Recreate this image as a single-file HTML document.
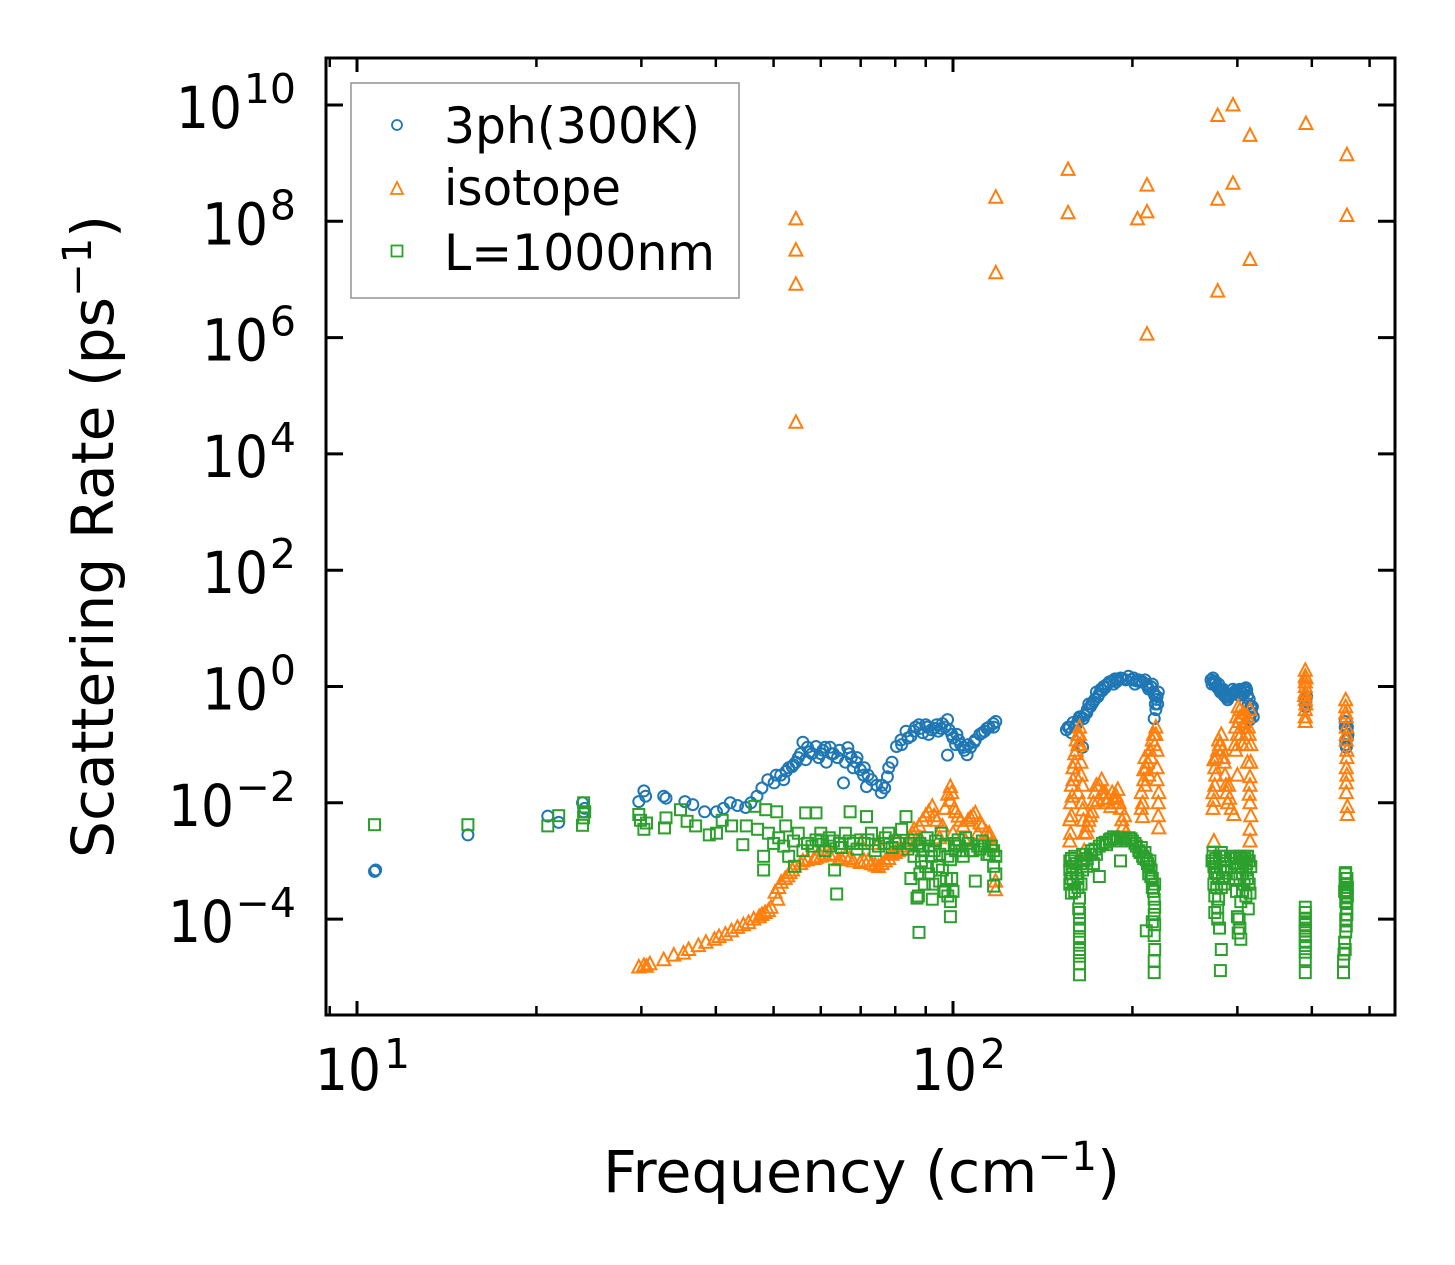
<!DOCTYPE html>
<html><head><meta charset="utf-8"><style>
html,body{margin:0;padding:0;background:#fff;}
svg{display:block;font-family:"DejaVu Sans","Liberation Sans",sans-serif;}
</style></head><body>
<svg id="chart" width="1455" height="1265" viewBox="0 0 1455 1265" xmlns="http://www.w3.org/2000/svg">
<rect x="0" y="0" width="1455" height="1265" fill="#fff"/>
<g id="marks"></g>
<g id="axes"></g>
<g id="legend">
  <rect x="351" y="83" width="388" height="215" fill="#fff" stroke="#999" stroke-width="1.6"/>
  <circle cx="397" cy="125" r="5" fill="none" stroke="#1f77b4" stroke-width="1.8"/>
  <path d="M397,182 L403,194 L391,194 Z" fill="none" stroke="#ff7f0e" stroke-width="1.8"/>
  <rect x="391.5" y="245.5" width="11" height="11" fill="none" stroke="#2ca02c" stroke-width="1.8"/>
  <text x="444" y="143" font-size="50" textLength="256" lengthAdjust="spacingAndGlyphs">3ph(300K)</text>
  <text x="444" y="205" font-size="50" textLength="177" lengthAdjust="spacingAndGlyphs">isotope</text>
  <text x="444" y="270" font-size="50" textLength="271" lengthAdjust="spacingAndGlyphs">L=1000nm</text>
</g>
<text x="603" y="1192" font-size="58" textLength="517" lengthAdjust="spacingAndGlyphs">Frequency (cm<tspan font-size="40" dy="-22">−1</tspan><tspan dy="22">)</tspan></text>
<text transform="translate(113,858) rotate(-90)" x="0" y="0" font-size="58" textLength="643" lengthAdjust="spacingAndGlyphs">Scattering Rate (ps<tspan font-size="40" dy="-22">−1</tspan><tspan dy="22">)</tspan></text>
</svg>
<script>
// ---- data ----
const blueF = [10.7,10.75,15.35,20.9,21.8,23.9,24.0,24.1,29.7,30.3,30.5,32.7,33.0,35.5,36.6,38.3,40.1,41.2,42.3,43.5,44.9,45.8,46.9,47.8,48.9,50.1,51.4,52.5,53.7,54.5,55.5,56.0,56.6,57.5,58.9,59.5,60.5,61.3,62.2,63.0,64.0,65.5,66.6,67.5,68.8,69.9,70.8,71.6,73,74.5,75.8,76.8,77.6,79,80.4,81.8,83.4,85,86.5,87.7,89,90.5,92,93.9,95.5,97.9,97.9,99.5,101,102.2,104,105.6,107,108.5,110.9,113,115,116.8,118,
155,157,159,161,163,165,165.5,167.6,170,172,175,178,181.5,185,188,191,195,199.6,202,205,208,211,214.7,217,220,218.5,217.6,219,
271,274,277,280,282,285,289,292,296,300,304,308,311,314,316,318,315,390,391,392,455,457,459,460,456,
82,84,86,88,90,91,93,94.5,96,97,98.5,100,101.5,103,104.5,106,109,112,114,117,55,57,58,60,61,62.5,64.5,66,67,68,69,71,72,76,78,50.5,52,53,54,
156,158,160,162,164,166,168,169,171,173,174,176,177,179,180,183,186,187,189,193,197,201,203,206,210,212,213,216,218,219.5,220.5,221,
272,273,275,276,278,279,281,283,284,287,288,290,294,295,298,302,303,306,309,310,312,313,317,319,314,
390,391,455,458,456,459];
const blueR = [6.6e-4,7e-4,2.8e-3,5.9e-3,4.6e-3,1e-2,7e-3,8e-3,1.05e-2,1.6e-2,1.3e-2,1.3e-2,1.2e-2,1.05e-2,9.3e-3,7e-3,7e-3,8e-3,1e-2,9e-3,8.3e-3,1e-2,1.3e-2,1.8e-2,2.5e-2,2.2e-2,3e-2,3.5e-2,4.2e-2,5e-2,7e-2,1.1e-1,5.5e-2,7.5e-2,9.3e-2,6e-2,8e-2,5e-2,9e-2,7e-2,6e-2,2.2e-2,8.9e-2,6e-2,5e-2,3.7e-2,3e-2,1.9e-2,2.5e-2,2e-2,1.5e-2,1.8e-2,2.8e-2,5e-2,9.3e-2,1.2e-1,1.7e-1,1.4e-1,2e-1,2.2e-1,1.6e-1,2e-1,1.8e-1,2.2e-1,1.9e-1,2.7e-1,6.6e-2,1.5e-1,1e-1,1.2e-1,9e-2,6.7e-2,9e-2,1.1e-1,1.5e-1,1.7e-1,2e-1,2.3e-1,2.5e-1,
0.18,0.2,0.24,0.22,0.3,0.09,0.28,0.35,0.45,0.55,0.67,0.85,1.1,1.25,1.2,1.4,1.3,1.3,1.1,1.3,1.2,1.1,1.0,0.8,0.67,0.5,0.28,0.4,
1.3,1.25,1.0,0.9,0.87,0.7,0.59,0.7,0.77,0.8,0.85,0.9,0.87,0.6,0.45,0.45,0.27,0.6,0.45,0.67,0.2,0.09,0.2,0.15,0.12,
0.1,0.13,0.17,0.19,0.22,0.15,0.19,0.17,0.23,0.2,0.18,0.13,0.15,0.1,0.08,0.1,0.12,0.16,0.19,0.2,0.06,0.09,0.07,0.07,0.09,0.07,0.08,0.05,0.07,0.04,0.06,0.04,0.03,0.02,0.04,0.03,0.025,0.04,0.045,
0.2,0.16,0.2,0.25,0.3,0.32,0.4,0.5,0.5,0.6,0.8,0.75,0.9,1.0,0.95,1.2,1.1,1.35,1.3,1.35,1.5,1.4,1.25,1.2,1.3,1.0,0.9,1.1,0.7,0.6,0.5,0.8,
1.1,1.4,1.1,1.2,0.95,1.1,0.8,0.8,0.9,0.65,0.75,0.65,0.75,0.9,0.85,0.7,0.9,0.75,0.8,0.95,0.7,0.5,0.35,0.3,0.3,
0.5,0.55,0.25,0.18,0.1,0.13];

const isoF = [29.7,30.3,30.6,32.7,35.3,36,37.4,38.5,39.8,41.5,42.5,43.5,44.5,45.4,46.3,47.3,48.4,49.5,50.3,50.8,51.5,52.3,53.3,54.2,55.5,57,58.5,60,62,64.3,66,68,69.9,72,75,77,79,81,83.4,85.5,87.7,90,92.3,94,96,99,99,100.5,102,104,106,109,111,113.8,115,117,117.9,117.9,88,95,105,110,
157,157,157.5,158,159,160,161,162,163,163.5,164,165,165,166,167.6,170,172,175,177.6,180,184,186,189,190,192,195,
207,208,209,210,212,214,216,219,218,220,221.5,221.5,
274,274,274,276,278,280,282,284,286,289,290,296,
298,301,303,306,308,312,315,315,315,315,315,312,300,298,
390,390,390,390,390,391,456,457,457,458,457,457,459,459,
54.5,54.5,54.5,54.5,118,118,156,156,204,211.6,211.6,211.6,278,278,278,295,295,315,315,391,458,458,
31,34,40.5,47.8,49,51,52.8,53.8,56,59,61,63,65,67,71,73,74,76,78,80,82,84,86,89,91,93,97,98,99.5,101,103,107,108,112,116,70,75,80,85,100,115,
157.5,158,158.5,159,160,161,162,163,160.5,162,164,164.5,165.5,166,168,169,171,173,174,176,178,179,181,182,185,187,188,191,193,194,
207,208,209,210,211,213,215,217,219,220,220,221,221,
273,273,275,275,277,279,281,283,285,287,288,291,293,
297,299,300,302,303,304,305,307,309,310,311,313,314,316,316,315,314,316,
390,390,390,391,389,390,456,456,457,457,458,458,457];
const isoR = [1.5e-5,1.6e-5,1.55e-5,2e-5,2.6e-5,3e-5,3.5e-5,4e-5,4.5e-5,5.5e-5,6.3e-5,7.2e-5,8e-5,8.7e-5,1e-4,1.1e-4,1.3e-4,1.6e-4,2.9e-4,2.2e-4,4.3e-4,5e-4,6.3e-4,8.1e-4,9e-4,1.05e-3,1.1e-3,1.2e-3,1.3e-3,1.05e-3,1.2e-3,1e-3,9.4e-4,1e-3,8e-4,1e-3,1.3e-3,1.5e-3,1.8e-3,3e-3,4e-3,6e-3,8.7e-3,5e-3,4e-3,1.9e-2,1.1e-2,8e-3,5.9e-3,4e-3,5e-3,6.7e-3,4.5e-3,3.1e-3,2.5e-3,1.8e-3,3.2e-4,4.5e-4,2.5e-3,2.5e-3,2.2e-3,3e-3,
5.1e-3,2.2e-3,1e-2,2e-2,4e-2,7e-2,0.12,0.15,0.2,0.1,5e-2,7.6e-3,2e-2,1.5e-3,3.1e-3,6e-3,1e-2,1.1e-2,2.5e-2,1.5e-2,8.6e-3,1.2e-2,1.7e-2,1e-2,5.1e-3,3.1e-3,
1.5e-2,5.8e-3,3.7e-2,2e-2,5e-2,8e-2,0.12,0.2,0.1,4e-2,1.5e-2,3.7e-3,
1.1e-2,2.2e-3,5.5e-2,3e-2,8e-2,0.1,0.15,6e-2,3e-2,1e-2,2e-2,6.3e-3,
0.2,0.45,0.3,0.1,0.2,0.3,0.4,2.8e-2,1e-2,3.5e-3,2.2e-3,5e-2,3e-2,8e-2,
1.9,1.0,0.6,0.4,0.25,1.4,0.59,0.3,0.15,8e-2,4e-2,2.2e-2,8.6e-3,6.3e-3,
1.1e8,3.2e7,8.3e6,3.5e4,2.6e8,1.3e7,7.8e8,1.4e8,1.1e8,4.2e8,1.45e8,1.15e6,2.4e8,6.6e9,6.3e6,1.0e10,4.5e8,3.0e9,2.2e7,4.8e9,1.4e9,1.26e8,
1.7e-5,2.4e-5,5e-5,1.2e-4,1.4e-4,3.5e-4,5.5e-4,7e-4,1e-3,1.15e-3,1.25e-3,1.3e-3,1.1e-3,1.1e-3,1e-3,9e-4,8.5e-4,9e-4,1.1e-3,1.4e-3,1.6e-3,2.2e-3,3.5e-3,5e-3,7e-3,6e-3,8e-3,1.4e-2,1.5e-2,7e-3,5e-3,5.5e-3,6e-3,4e-3,2e-3,2e-3,2e-3,2.5e-3,2.5e-3,3e-3,3e-3,
3e-3,6e-3,1.3e-2,2.5e-2,5e-2,8e-2,0.1,0.15,3e-2,1.5e-2,3e-2,1e-2,5e-3,3e-3,4e-3,5e-3,7e-3,1.5e-2,2e-2,2e-2,1.5e-2,1.2e-2,1e-2,1.2e-2,1.5e-2,1e-2,1.3e-2,8e-3,4e-3,6e-3,
8e-3,1e-2,2.5e-2,6e-2,4e-2,3e-2,6e-2,0.15,0.15,8e-2,2.5e-2,1e-2,6e-3,
8e-3,1.5e-2,2e-2,4e-2,6e-2,0.12,0.1,8e-2,5e-2,2e-2,1.5e-2,1.2e-2,8e-3,
0.1,0.3,0.15,0.25,0.4,0.15,0.3,0.35,0.25,0.15,0.1,0.2,0.15,0.1,5e-2,2e-2,1.4e-2,6e-3,
1.5,1.2,0.8,0.5,0.7,0.3,0.45,0.35,0.2,0.12,6e-2,3e-2,1.5e-2];

const bndF = [10.7,15.35,20.9,21.8,23.9,24,24,24.1,29.7,29.9,30.3,30.6,32.8,33,34.9,35.8,37,39,40.1,41,42.5,44.4,45,46.5,47,48.1,48.1,48.5,49,50.6,51,52.4,53,54.2,55,56.6,57,58.9,58.9,60,61,62,63.3,63.8,64.5,66,67.2,68,70,71.6,73,74,76.6,78,80,82,83.4,85,86,87,87.7,87.7,88.5,89.5,90.5,91,92.3,93,94.5,95.5,96.5,97.5,99,99,99,100.5,102,103.5,105,107,109,110,112,114,116,117,117,118,
157,157.5,158,159,160,161,162,163,163,163,163,163,163,164,165,167.6,170,173,176,176,180,183,186,189,191,193,197.5,200,203,205,208,211,211,213,214.7,216,217.6,217.6,217.6,217.6,217.6,218,
273,275,275,276,277,279,280,281,282,282,283,285,287,
298,300,301,302,303,304,304,306,308,310,312,315,313,
390,390,390,390,390,390,390,
455,456,456,457,457,457,455,452,452,458,459,
50,52,54,56,58,60,62,63,65,67,69,71,72,75,77,79,81,84,86,88,89,91,92,93.5,95,96,97,98,99.5,101,102.5,104,106,108,111,113,115,117,118,88,90,92.5,95,97,98,100,87.5,85,
157,157,158,158.5,159,160,161,162,162.5,163,163,163,163,164,165,166,
168,171,172,174,178,181,184,188,195,199,202,206,207,209,210,212,213,214,215,216,217,218,218,218,216,
272,273,274,274,275,276,277,278,278,279,280,281,282,283,284,285,286,
297,298,299,299,300,301,302,303,303,304,305,306,307,308,309,310,311,312,314,314,316,
390,390,390,390,390,390,
454,455,455,456,456,457,457,458,458,459,458,456,454,453];
const bndR = [4.2e-3,4.2e-3,4e-3,6e-3,4.1e-3,1e-2,5.5e-3,7e-3,6.3e-3,5e-3,3.5e-3,4.5e-3,3.7e-3,5.5e-3,7.6e-3,4.8e-3,4e-3,2.8e-3,3e-3,5e-3,4e-3,1.9e-3,4e-3,8.7e-3,3.5e-3,1.2e-3,7e-4,7.6e-3,3e-3,7e-3,2.5e-3,4e-3,1.2e-3,8.1e-4,3e-3,6.7e-3,2e-3,6.7e-3,2.3e-3,3e-3,1.5e-3,2.5e-3,7e-4,2.7e-4,2e-3,3e-3,7e-3,2e-3,2.3e-3,5.8e-3,3e-3,1.5e-3,2e-3,3e-3,2.2e-3,3.5e-3,5.8e-3,2e-3,1.2e-3,2.3e-4,5.9e-5,1.8e-3,1e-3,4e-4,2.5e-3,6e-4,2.2e-4,1.5e-3,8e-4,3e-3,3e-4,5e-4,1.1e-4,1.05e-3,2e-4,2e-3,2.3e-3,1.5e-3,2.5e-3,1.5e-3,4.5e-4,1.8e-3,2.2e-3,1.3e-3,1.8e-3,8.1e-4,3.7e-4,1.2e-3,
1e-3,5e-4,2.8e-4,8.1e-4,1.2e-3,6e-4,3.5e-4,2.3e-4,4e-5,2.3e-5,1.1e-5,7e-5,1.3e-4,9e-4,1.3e-3,8.1e-4,1.3e-3,1.6e-3,1.8e-3,5.4e-4,2.1e-3,2.3e-3,2.6e-3,2.5e-3,1e-3,2.4e-3,2.5e-3,2.2e-3,1.8e-3,1.5e-3,1.2e-3,1.05e-3,6.3e-5,8e-4,5.4e-4,3.5e-4,2.2e-4,1.2e-4,5.2e-5,1.9e-5,1.2e-5,3e-5,
1.2e-3,6.3e-4,1.3e-4,9e-4,3.5e-4,2.2e-4,7e-5,1.3e-5,1.4e-3,3e-5,5e-4,1e-3,8e-4,
9e-4,6e-4,5.8e-5,1e-4,1.2e-3,8.1e-4,4.5e-5,3e-4,1.1e-3,7e-4,1.2e-3,2.8e-4,1.5e-4,
1.3e-4,1e-4,6.3e-5,4e-5,2.7e-5,1.2e-5,8e-5,
5e-4,6.3e-4,2.8e-4,4e-4,1.5e-4,7.6e-5,3e-5,1.9e-5,1.2e-5,2e-4,3.5e-4,
2e-3,1.8e-3,2.2e-3,1.5e-3,1.8e-3,2.2e-3,1.8e-3,2.2e-3,1.7e-3,2.2e-3,1.6e-3,2e-3,2.3e-3,1.8e-3,2.5e-3,1.7e-3,2e-3,1.6e-3,2.3e-3,2e-3,1.5e-3,1.8e-3,1.2e-3,2.2e-3,1.3e-3,7e-4,1.8e-3,1.2e-3,5e-4,1.5e-3,1.8e-3,1.2e-3,2e-3,1.5e-3,1.6e-3,1.8e-3,1.3e-3,1.5e-3,6e-4,6e-4,8e-4,4e-4,4.5e-4,3e-4,2.5e-4,3e-4,2.5e-4,5e-4,
7e-4,4e-4,1.1e-3,6e-4,4e-4,3e-4,9e-4,5e-4,1.5e-4,1e-4,5e-5,3e-5,1.7e-5,4e-4,7e-4,1e-3,
1.1e-3,1.5e-3,9e-4,1.3e-3,2e-3,1.9e-3,2.4e-3,2.2e-3,2.2e-3,2.4e-3,2e-3,1.4e-3,1.7e-3,1.1e-3,1.4e-3,9e-4,6e-4,1e-3,7e-4,5e-4,3e-4,4e-4,1.6e-4,8e-5,9e-5,
1e-3,1.4e-3,8e-4,4e-4,2.5e-4,1.1e-3,6e-4,1.6e-4,1e-4,5e-4,1.2e-3,8e-4,3.5e-4,1.2e-3,7e-4,4e-4,1.2e-3,
1.1e-3,5e-4,1.2e-3,3e-4,1.1e-4,8e-4,1.2e-3,5e-4,7e-5,2e-4,1.1e-3,6e-4,1e-3,4e-4,1.2e-3,2.5e-4,9e-4,5e-4,1e-3,4e-4,8e-4,
7e-5,5e-5,1.6e-4,9e-5,3.5e-5,2e-5,
3e-4,6e-4,4e-4,2e-4,1e-4,5e-4,3e-4,4e-4,5e-4,2.5e-4,1.2e-4,6e-5,4e-5,2.5e-5];

const xMajorTicks = [10, 100];
const xMinorTicks = [9,20,30,40,50,60,70,80,90,200,300,400,500];
const xTickLabels = ["1","2"];
const yTickExps = [-4,-2,0,2,4,6,8,10];

// ---- axis functions ----
const L=326,R=1395,T=58,B=1015;
function xs(f){return 357 + 596*(Math.log10(f)-1);}
function ys(r){return 105 + (10-Math.log10(r))*58.15;}
const NS="http://www.w3.org/2000/svg";
function mk(tag,attrs,parent){const e=document.createElementNS(NS,tag);for(const k in attrs)e.setAttribute(k,attrs[k]);parent.appendChild(e);return e;}
const marks=document.getElementById('marks');
const axes=document.getElementById('axes');

const gB=mk('g',{},marks);


for(let i=0;i<blueF.length;i++){
  const c=mk('circle',{cx:xs(blueF[i]).toFixed(1),cy:ys(blueR[i]).toFixed(1),r:5.5,fill:'none',stroke:'#1f77b4','stroke-width':2},gB);
  
  
}
const gI=mk('g',{},marks);


for(let i=0;i<isoF.length;i++){
  const x=xs(isoF[i]),y=ys(isoR[i]);
  const p=mk('path',{d:`M${x.toFixed(1)},${(y-7).toFixed(1)} L${(x+6.5).toFixed(1)},${(y+5.5).toFixed(1)} L${(x-6.5).toFixed(1)},${(y+5.5).toFixed(1)} Z`,fill:'none',stroke:'#ff7f0e','stroke-width':2},gI);
  
  
}
const gG=mk('g',{},marks);


for(let i=0;i<bndF.length;i++){
  const x=xs(bndF[i]),y=ys(bndR[i]);
  const s=mk('rect',{x:(x-5.5).toFixed(1),y:(y-5.5).toFixed(1),width:11,height:11,fill:'none',stroke:'#2ca02c','stroke-width':2},gG);
  
  
}

// frame
const fr=mk('rect',{x:L,y:T,width:R-L,height:B-T,fill:'none',stroke:'#000','stroke-width':3},axes);


// x ticks
xMajorTicks.forEach((v,i)=>{
  const x=xs(v);
  const t1=mk('line',{x1:x,x2:x,y1:B,y2:B-14,stroke:'#000','stroke-width':3},axes);
  
  
  const t2=mk('line',{x1:x,x2:x,y1:T,y2:T+14,stroke:'#000','stroke-width':3},axes);
  
  
  const lb=mk('text',{x:x-42,y:1090,'font-size':58,textLength:66,lengthAdjust:'spacingAndGlyphs'},axes);
  lb.textContent='10';
  
  
  const sp=mk('text',{x:x+27,y:1068,'font-size':41},axes);
  sp.textContent=xTickLabels[i];
  
  
});
xMinorTicks.forEach(v=>{
  const x=xs(v);
  const t1=mk('line',{x1:x,x2:x,y1:B,y2:B-9,stroke:'#000','stroke-width':2.5},axes);
  
  
  const t2=mk('line',{x1:x,x2:x,y1:T,y2:T+9,stroke:'#000','stroke-width':2.5},axes);
  
  
});
// y ticks
yTickExps.forEach(e=>{
  const y=ys(Math.pow(10,e));
  const t1=mk('line',{x1:L,x2:L+17,y1:y,y2:y,stroke:'#000','stroke-width':3},axes);
  
  
  const t2=mk('line',{x1:R,x2:R-17,y1:y,y2:y,stroke:'#000','stroke-width':3},axes);
  
  
  const es=(e<0?'−':'')+Math.abs(e);
  const supW = (e<0?34:0) + String(Math.abs(e)).length*26;
  const sp=mk('text',{x:296,y:y-2,'font-size':41,'text-anchor':'end'},axes);
  sp.textContent=es;
  
  
  const lb=mk('text',{x:296-supW-68,y:y+23,'font-size':58,textLength:66,lengthAdjust:'spacingAndGlyphs'},axes);
  lb.textContent='10';
  
  
});
</script>
</body></html>
